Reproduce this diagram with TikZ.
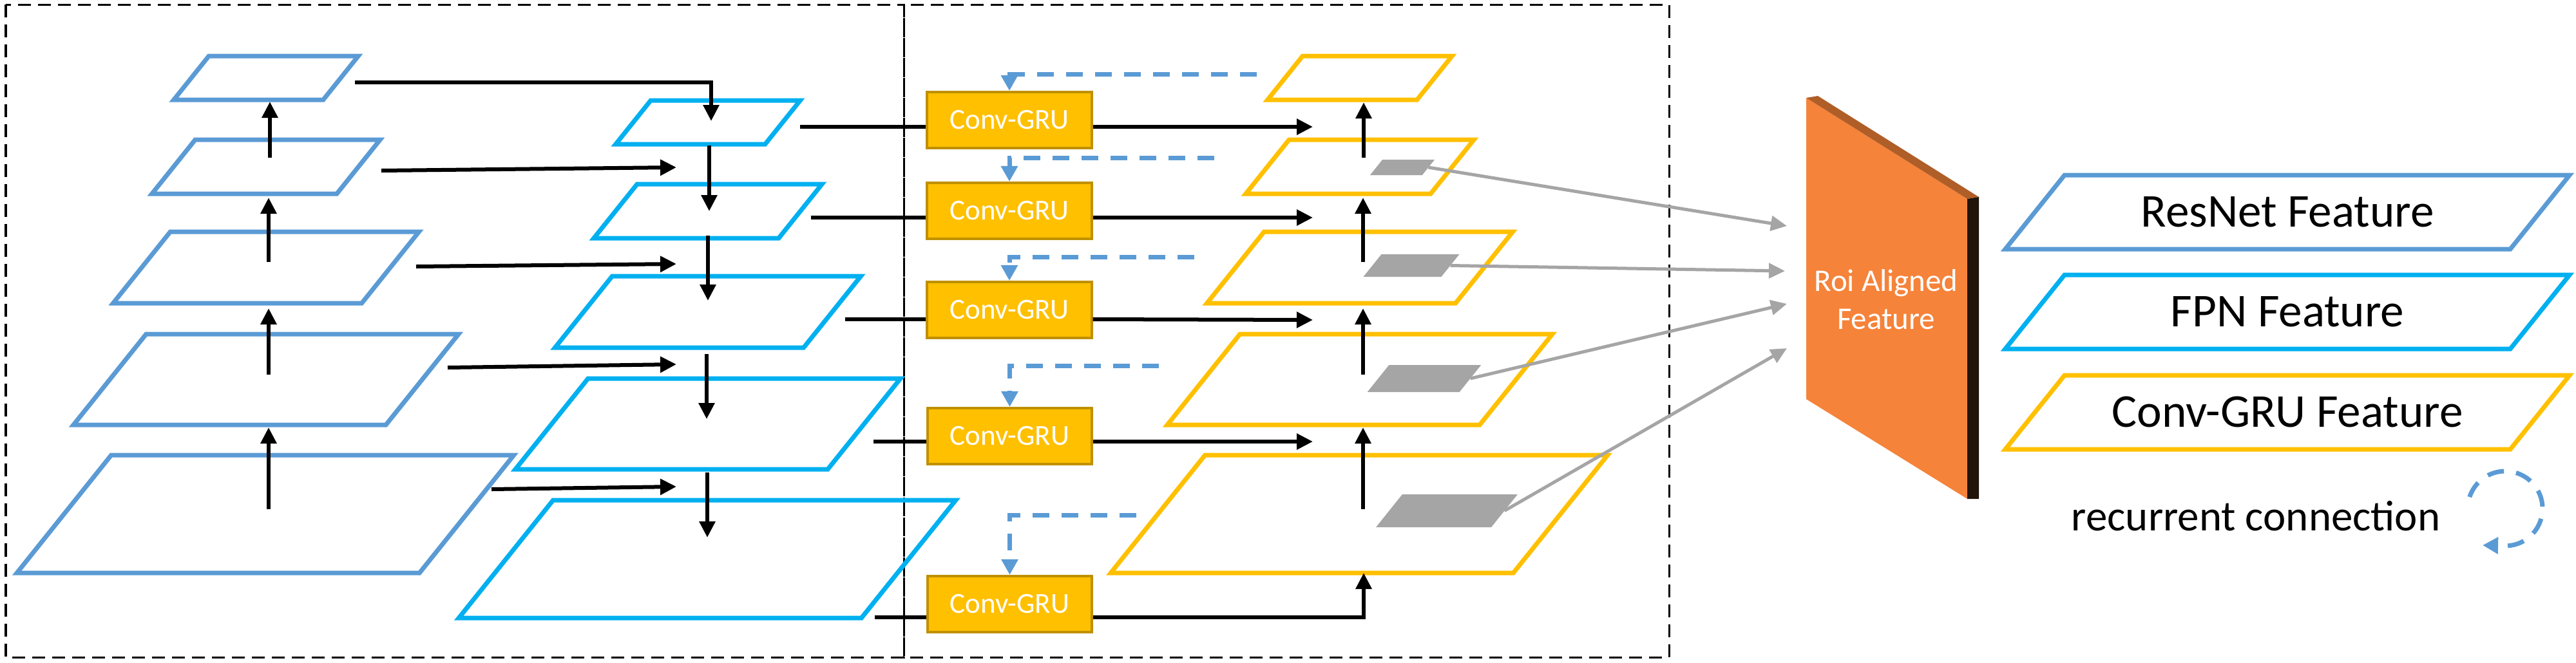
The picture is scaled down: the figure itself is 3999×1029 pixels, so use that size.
\documentclass[tikz,border=0pt]{standalone}
\usepackage{fontspec}
\setmainfont{Carlito}
\usetikzlibrary{arrows.meta}
\definecolor{resblue}{HTML}{5B9BD5}
\definecolor{fpncyan}{HTML}{00B0F0}
\definecolor{gruyel}{HTML}{FFC000}
\definecolor{grubord}{HTML}{BF9000}
\definecolor{roigray}{HTML}{A5A5A5}
\definecolor{roiorange}{HTML}{F5833A}
\definecolor{roitop}{HTML}{B05E27}
\definecolor{roiside}{HTML}{21140A}
\newcommand{\mypgram}[6]{%
  \path[#6] ({#2-#4/2+0.4*#5},#3) -- ++(#4,0) -- ++({-0.8*#5},#5) -- ++(-#4,0) -- cycle;
  \coordinate (#1) at (#2,{#3+#5/2});
  \coordinate (#1r) at ({#2+#4/2},{#3+#5/2});
}
\tikzset{
  res/.style={draw=resblue, line width=0.07cm},
  fpn/.style={draw=fpncyan, line width=0.07cm},
  gru/.style={draw=gruyel, line width=0.07cm},
  patch/.style={fill=roigray},
  blk/.style={line width=0.06cm, -{Triangle[length=0.25cm,width=0.24cm]}},
  plain/.style={line width=0.06cm},
  rec/.style={draw=resblue, line width=0.07cm, dash pattern=on 0.26cm off 0.19cm, -{Triangle[length=0.24cm,width=0.25cm]}},
  gry/.style={draw=roigray, line width=0.05cm, -{Triangle[length=0.25cm,width=0.23cm]}},
  grubox/.style={draw=grubord, fill=gruyel, line width=0.04cm, minimum width=2.55cm, minimum height=0.87cm, inner sep=0pt, text=white, font=\fontsize{12.8}{15}\selectfont},
  frame/.style={draw, line width=0.03cm, dash pattern=on 0.2cm off 0.11cm},
  legtext/.style={font=\fontsize{20.8}{25}\selectfont},
}
\begin{document}
\begin{tikzpicture}[x=0.01cm, y=-0.01cm]
\useasboundingbox (0,0) rectangle (3999,1029);
% frames
\draw[frame] (9,7) rectangle (1403,1021);
\draw[frame] (1403,7) rectangle (2591,1021);
% ResNet
\mypgram{p1}{413}{87}{232}{68}{res}
\mypgram{p2}{413}{217}{287}{84}{res}
\mypgram{p3}{413}{360}{386}{111}{res}
\mypgram{p4}{413}{519}{485}{141}{res}
\mypgram{p5}{412}{707}{625}{183}{res}
% FPN
\mypgram{f1}{1099}{156}{232}{68}{fpn}
\mypgram{f2}{1099}{286}{287}{84}{fpn}
\mypgram{f3}{1099}{429}{386}{111}{fpn}
\mypgram{f4}{1099}{588}{485}{141}{fpn}
\mypgram{f5}{1098}{777}{625}{183}{fpn}
% Conv-GRU features
\mypgram{g1}{2111}{87}{232}{68}{gru}
\mypgram{g2}{2111}{217}{287}{84}{gru}
\mypgram{g3}{2111}{360}{386}{111}{gru}
\mypgram{g4}{2111}{519}{485}{141}{gru}
\mypgram{g5}{2110}{707}{625}{183}{gru}
% ROI patches
\mypgram{q2}{2177}{248}{81}{24}{patch}
\mypgram{q3}{2191}{395}{121}{35}{patch}
\mypgram{q4}{2211}{567}{143}{42}{patch}
\mypgram{q5}{2246}{768}{179}{51}{patch}
% ResNet up arrows
\coordinate (ra1) at (417,791); \coordinate (rb1) at (417,664);
\coordinate (ra2) at (417,582); \coordinate (rb2) at (417,479);
\coordinate (ra3) at (417,407); \coordinate (rb3) at (417,307);
\coordinate (ra4) at (419,245); \coordinate (rb4) at (419,158);
\foreach \i in {1,...,4} \draw[blk] (ra\i) -- (rb\i);
% G up arrows
\coordinate (ga1) at (2116,791); \coordinate (gb1) at (2116,664);
\coordinate (ga2) at (2116,582); \coordinate (gb2) at (2116,479);
\coordinate (ga3) at (2116,407); \coordinate (gb3) at (2116,307);
\coordinate (ga4) at (2117,245); \coordinate (gb4) at (2117,159);
\foreach \i in {1,...,4} \draw[blk] (ga\i) -- (gb\i);
% FPN down arrows
\coordinate (fa1) at (1101,226); \coordinate (fb1) at (1101,328);
\coordinate (fa2) at (1099,366); \coordinate (fb2) at (1099,467);
\coordinate (fa3) at (1097,550); \coordinate (fb3) at (1097,651);
\coordinate (fa4) at (1098,734); \coordinate (fb4) at (1098,835);
\foreach \i in {1,...,4} \draw[blk] (fa\i) -- (fb\i);
% lateral ResNet -> FPN
\coordinate (la1) at (551,128); \coordinate (lb1) at (1104,188);
\draw[blk] (la1) -| (lb1);
\coordinate (la2) at (592,265); \coordinate (lb2) at (1050,260);
\coordinate (la3) at (646,414); \coordinate (lb3) at (1050,410);
\coordinate (la4) at (695,571); \coordinate (lb4) at (1050,566);
\coordinate (la5) at (763,760); \coordinate (lb5) at (1050,756);
\foreach \i in {2,...,5} \draw[blk] (la\i) -- (lb\i);
% Conv-GRU boxes
\node[grubox] (gru1) at (1567,186.5) {Conv-GRU};
\node[grubox] (gru2) at (1567,327.5) {Conv-GRU};
\node[grubox] (gru3) at (1567,481.5) {Conv-GRU};
\node[grubox] (gru4) at (1567.5,677.5) {Conv-GRU};
\node[grubox] (gru5) at (1567.5,938.5) {Conv-GRU};
% FPN -> GRU -> G
\coordinate (h1) at (1242,197); \coordinate (e1) at (2038,197);
\coordinate (h2) at (1259,338); \coordinate (e2) at (2038,338);
\coordinate (h3) at (1312,496); \coordinate (e3) at (2038,497);
\coordinate (h4) at (1356,686); \coordinate (e4) at (2038,686);
\coordinate (h5) at (1358,959); \coordinate (e5) at (2117,890);
\foreach \i in {1,...,5} \draw[plain] (h\i) -- (h\i -| gru\i.west);
\foreach \i in {1,...,4} \draw[blk] (h\i -| gru\i.east) -- (e\i);
\draw[blk] (h5 -| gru5.east) -| (e5);
% recurrent
\coordinate (rc1) at (1951,115);
\coordinate (rc2) at (1885,245);
\coordinate (rc3) at (1854,399);
\coordinate (rc4) at (1799,568);
\coordinate (rc5) at (1764,800);
\foreach \i in {1,...,5} \draw[rec] (rc\i) -| (gru\i.north);
% ROI aligned feature
\fill[roiorange] (2804,152) -- (3054,309) -- (3054,775) -- (2804,620) -- cycle;
\fill[roitop] (2804,152) -- (2822,149) -- (3072,306) -- (3054,309) -- cycle;
\fill[roiside] (3054,309) -- (3072,306) -- (3072,775) -- (3054,775) -- cycle;
\node[text=white, anchor=base, inner sep=0pt, font=\fontsize{13.9}{16}\selectfont] (roi1) at (2928,452.5) {Roi Aligned};
\node[text=white, anchor=base, inner sep=0pt, font=\fontsize{13.9}{16}\selectfont] (roi2) at (2928,511) {Feature};
% gray arrows
\coordinate (t2) at (2774,351);
\coordinate (t3) at (2771,421);
\coordinate (t4) at (2774,472);
\coordinate (t5) at (2774,541);
\foreach \i in {2,...,5} \draw[gry] (q\i r) -- (t\i);
% legend
\mypgram{lres}{3551}{272}{784}{115}{res}
\mypgram{lfpn}{3551}{427}{784}{115}{fpn}
\mypgram{lgru}{3551}{583}{784}{115}{gru}
\node[legtext] (tres) at (lres) {ResNet Feature};
\node[legtext] (tfpn) at (lfpn) {FPN Feature};
\node[legtext] (tgru) at (lgru) {Conv-GRU Feature};
\node[anchor=base, inner sep=0pt, font=\fontsize{19}{23}\selectfont] (trec) at (3502,824) {recurrent connection};
\coordinate (rcc) at (3889,790);
\coordinate (rtip) at (3854,847);
\draw[rec] ([shift={(162:0.58cm)}]rcc) arc[start angle=162, end angle=-97, radius=0.58cm] -- (rtip);
\end{tikzpicture}
\end{document}
